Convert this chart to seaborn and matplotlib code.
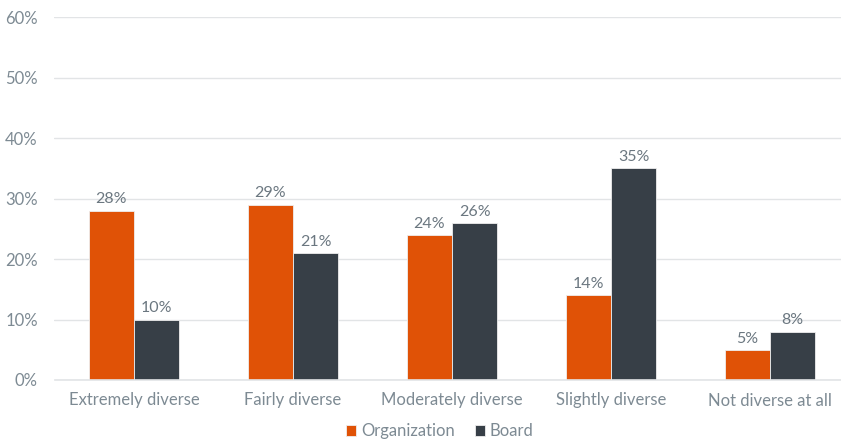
import matplotlib
matplotlib.use("Agg")
import matplotlib.pyplot as plt
from matplotlib.ticker import FuncFormatter
import seaborn as sns
import pandas as pd

categories = ["Extremely diverse", "Fairly diverse", "Moderately diverse",
              "Slightly diverse", "Not diverse at all"]
organization = [28, 29, 24, 14, 5]
board = [10, 21, 26, 35, 8]
series_names = ["Organization", "Board"]
y_ticks = [0, 10, 20, 30, 40, 50, 60]

df = pd.DataFrame({
    "category": categories * 2,
    "series": [series_names[0]] * len(categories) + [series_names[1]] * len(categories),
    "value": organization + board,
})

sns.set_theme(style="white")
plt.rcParams["font.family"] = ["Lato", "DejaVu Sans"]

text_color = "#7d8a93"
palette = {"Organization": "#e05206", "Board": "#373f47"}

fig = plt.figure(figsize=(8.41, 4.42), dpi=100)
ax = fig.add_axes([54.5 / 841, 62 / 442, 786 / 841, 363 / 442])

sns.barplot(data=df, x="category", y="value", hue="series", order=categories,
            hue_order=series_names, palette=palette, width=0.57,
            edgecolor="#eeeeee", linewidth=0.6, saturation=1, ax=ax)

for container in ax.containers:
    ax.bar_label(container, fmt="%d%%", padding=3, fontsize=11.5, color="#6b7780")

ax.set_ylim(0, 60)
ax.set_xlim(-0.5, -0.5 + 786 / 159)
ax.set_yticks(y_ticks)
ax.yaxis.set_major_formatter(FuncFormatter(lambda v, p: f"{v:.0f}%"))
ax.grid(axis="y", color="#e2e4e6", linewidth=1)
ax.set_axisbelow(True)
for side in ["top", "right", "left"]:
    ax.spines[side].set_visible(False)
ax.spines["bottom"].set_color("#e2e4e6")
ax.spines["bottom"].set_linewidth(1.2)
ax.tick_params(axis="both", length=0, labelsize=12, colors=text_color)
ax.tick_params(axis="x", pad=9)
ax.tick_params(axis="y", pad=12)
ax.set_xlabel("")
ax.set_ylabel("")

leg = ax.legend(loc="lower center", bbox_to_anchor=(0.49 , -0.205), ncol=2,
                frameon=False, fontsize=12, handlelength=0.6, handleheight=0.6,
                handletextpad=0.3, columnspacing=1.2, labelcolor=text_color)

fig.savefig("out.png", dpi=100)
